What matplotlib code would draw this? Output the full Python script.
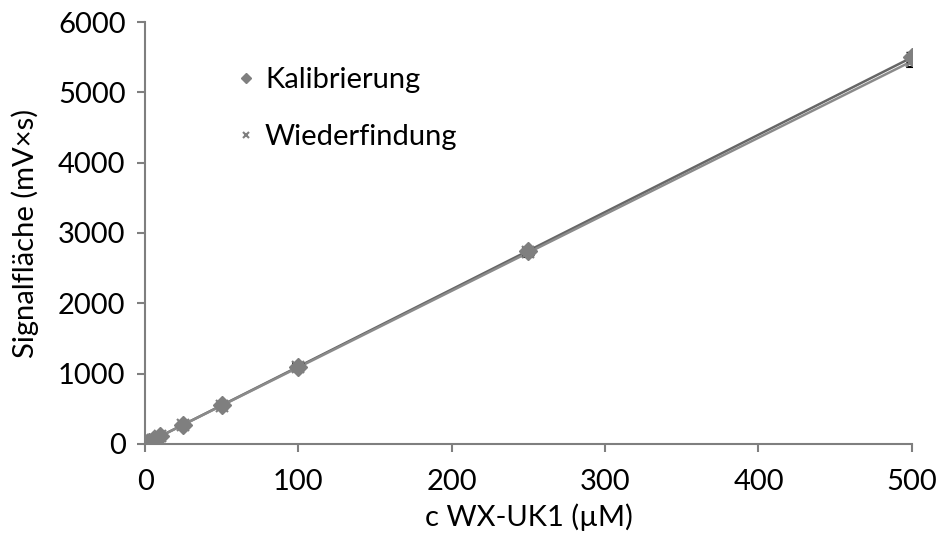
import numpy as np
import matplotlib.pyplot as plt

plt.rcParams["font.family"] = ["Lato", "DejaVu Sans"]

# concentration in uM
conc = [0, 1, 2.5, 5, 10, 25, 50, 100, 250, 500]
kalib = [0, 11, 27, 55, 110, 272, 548, 1100, 2740, 5500]
kalib_err = [5, 8, 10, 15, 20, 30, 40, 50, 60, 70]
wieder = [0, 11, 27, 54, 108, 268, 545, 1095, 2725, 5440]
wieder_err = [5, 8, 10, 15, 20, 30, 40, 50, 60, 80]

gray = "#7f7f7f"

fig = plt.figure(figsize=(9.42, 5.38), dpi=100)
ax = fig.add_axes([0.154, 0.175, 0.814, 0.784])

ax.errorbar(conc, kalib, yerr=kalib_err, fmt="D", color=gray, ms=9,
            ecolor="black", elinewidth=1, capsize=4, label="Kalibrierung", zorder=3)
ax.errorbar(conc, wieder, yerr=wieder_err, fmt="x", color=gray, ms=9, mew=1.5,
            ecolor="black", elinewidth=1, capsize=4, label="Wiederfindung", zorder=3)

# linear trend lines
xs = np.array([0, 500])
for vals, col in [(kalib, "#666666"), (wieder, "#8a8a8a")]:
    m, b = np.polyfit(conc, vals, 1)
    ax.plot(xs, m * xs + b, color=col, lw=1.8, zorder=2)

ax.set_xlim(0, 500)
ax.set_ylim(0, 6000)
ax.set_xticks(range(0, 501, 100))
ax.set_yticks(range(0, 6001, 1000))
ax.tick_params(direction="out", length=6, width=1.5, color=gray, labelsize=21)
ax.tick_params(axis="x", pad=12)
ax.tick_params(axis="y", pad=8)
for s in ["top", "right"]:
    ax.spines[s].set_visible(False)
for s in ["left", "bottom"]:
    ax.spines[s].set_color(gray)
    ax.spines[s].set_linewidth(1.5)

ax.set_xlabel("c WX-UK1 (µM)", fontsize=21, labelpad=6)
ax.set_ylabel("Signalfläche (mV×s)", fontsize=21, labelpad=14)

h, l = ax.get_legend_handles_labels()
leg = ax.legend([hh[0] for hh in h], l, loc="upper left", bbox_to_anchor=(0.088, 0.955),
                frameon=False, fontsize=21, markerscale=0.55, handlelength=0.5,
                handletextpad=0.4, labelspacing=1.05)

fig.savefig("out.png", dpi=100)
